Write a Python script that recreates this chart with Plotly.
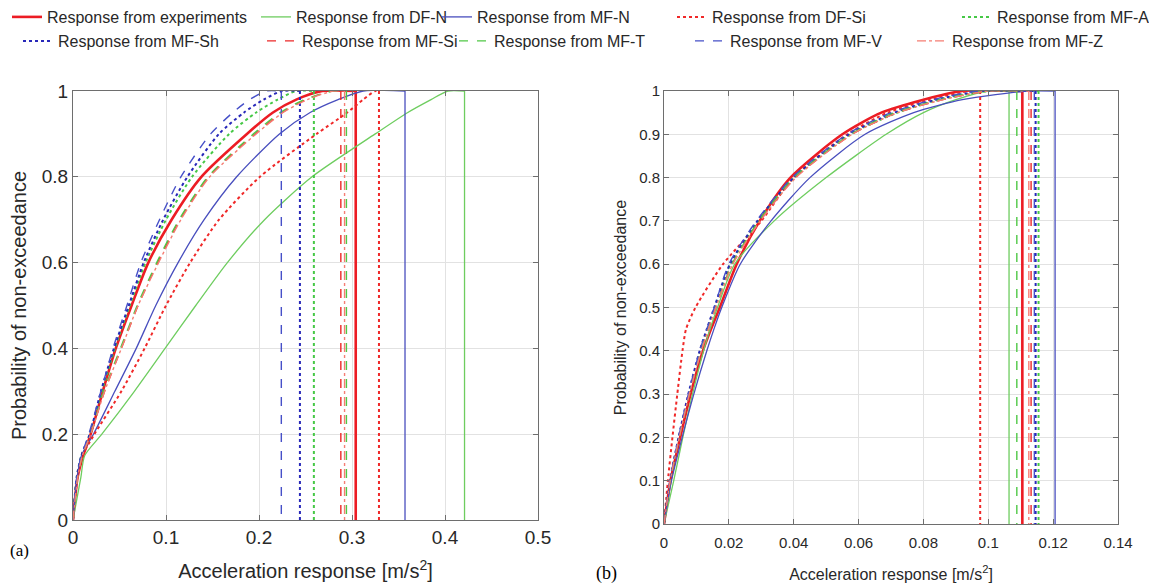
import plotly.graph_objects as go

# page body adds an 8px margin, so the figure is 8px smaller and every position
# below is taken from the reference minus 8px
OFF = 8
W, H = 1157 - OFF, 586 - OFF

# ---- data ----
names = ["Response from experiments", "Response from DF-N", "Response from MF-N",
         "Response from DF-Si", "Response from MF-A", "Response from MF-Sh",
         "Response from MF-Si", "Response from MF-T", "Response from MF-V",
         "Response from MF-Z"]

# probability levels (y) used for panel (a)
prob_a = [0, 0.1, 0.15, 0.2, 0.3, 0.4, 0.5, 0.6, 0.7, 0.8, 0.9, 0.95, 0.98, 1.0]
# acceleration (x) at those levels, panel (a)
exp_a = [0, 0.005, 0.011, 0.019, 0.032, 0.046, 0.063, 0.081, 0.106, 0.138, 0.187, 0.215, 0.240, 0.268]
dfn_a = [0, 0.0085, 0.0125, 0.031, 0.066, 0.099, 0.132, 0.166, 0.206, 0.257, 0.325, 0.360, 0.385, 0.403]
mfn_a = [0, 0.0045, 0.009, 0.022, 0.045, 0.068, 0.089, 0.113, 0.141, 0.176, 0.222, 0.255, 0.285, 0.312]
dfsi_a = [0, 0.005, 0.010, 0.023, 0.052, 0.077, 0.100, 0.126, 0.157, 0.201, 0.262, 0.295, 0.312, 0.325]
mfa_a = [0, 0.004, 0.009, 0.018, 0.031, 0.045, 0.061, 0.078, 0.100, 0.128, 0.168, 0.197, 0.220, 0.240]
mfsh_a = [0, 0.004, 0.009, 0.018, 0.030, 0.044, 0.060, 0.076, 0.097, 0.123, 0.157, 0.184, 0.205, 0.225]
mfsi_a = [0, 0.005, 0.010, 0.019, 0.034, 0.052, 0.070, 0.091, 0.115, 0.146, 0.196, 0.225, 0.250, 0.278]
mft_a = [0, 0.005, 0.010, 0.019, 0.033, 0.051, 0.069, 0.090, 0.114, 0.145, 0.194, 0.223, 0.249, 0.280]
mfv_a = [0, 0.004, 0.009, 0.017, 0.030, 0.043, 0.058, 0.073, 0.093, 0.116, 0.148, 0.172, 0.190, 0.208]
mfz_a = [0, 0.005, 0.010, 0.019, 0.034, 0.052, 0.070, 0.092, 0.116, 0.147, 0.197, 0.226, 0.252, 0.280]
# maximum response (vertical drop line), panel (a)
max_a = [0.304, 0.421, 0.357, 0.329, 0.259, 0.244, 0.288, 0.294, 0.224, 0.292]

# probability levels used for panel (b)
prob_b = [0, 0.1, 0.2, 0.3, 0.4, 0.45, 0.5, 0.6, 0.7, 0.8, 0.9, 0.95, 0.98, 1.0]
exp_b = [0, 0.0020, 0.0050, 0.0082, 0.0120, 0.0145, 0.0172, 0.0224, 0.0295, 0.0390, 0.0550, 0.0670, 0.0800, 0.0920]
dfn_b = [0, 0.0030, 0.0058, 0.0088, 0.0122, 0.0142, 0.0165, 0.0218, 0.0340, 0.0500, 0.0685, 0.0800, 0.0900, 0.1000]
mfn_b = [0, 0.0023, 0.0056, 0.0092, 0.0132, 0.0154, 0.0178, 0.0235, 0.0330, 0.0450, 0.0620, 0.0770, 0.0920, 0.1120]
dfsi_b = [0, 0.0012, 0.0026, 0.0041, 0.0057, 0.0068, 0.0097, 0.0182, 0.0300, 0.0400, 0.0565, 0.0690, 0.0820, 0.0940]
mfa_b = [0, 0.0019, 0.0046, 0.0077, 0.0112, 0.0134, 0.0157, 0.0205, 0.0290, 0.0402, 0.0575, 0.0720, 0.0850, 0.1000]
mfsh_b = [0, 0.0018, 0.0045, 0.0075, 0.0110, 0.0132, 0.0155, 0.0203, 0.0288, 0.0400, 0.0570, 0.0710, 0.0840, 0.0980]
mfsi_b = [0, 0.0019, 0.0047, 0.0078, 0.0115, 0.0137, 0.0160, 0.0210, 0.0295, 0.0405, 0.0580, 0.0720, 0.0860, 0.1000]
mft_b = [0, 0.0019, 0.0047, 0.0078, 0.0114, 0.0136, 0.0160, 0.0210, 0.0292, 0.0400, 0.0575, 0.0710, 0.0850, 0.0980]
mfv_b = [0, 0.0018, 0.0045, 0.0075, 0.0110, 0.0132, 0.0155, 0.0200, 0.0285, 0.0395, 0.0565, 0.0700, 0.0830, 0.0970]
mfz_b = [0, 0.0019, 0.0047, 0.0078, 0.0115, 0.0137, 0.0160, 0.0212, 0.0297, 0.0407, 0.0580, 0.0720, 0.0860, 0.1000]
max_b = [0.1105, 0.1064, 0.1206, 0.0975, 0.1155, 0.1146, 0.1132, 0.1088, 0.1142, 0.1125]

curves_a = [exp_a, dfn_a, mfn_a, dfsi_a, mfa_a, mfsh_a, mfsi_a, mft_a, mfv_a, mfz_a]
curves_b = [exp_b, dfn_b, mfn_b, dfsi_b, mfa_b, mfsh_b, mfsi_b, mft_b, mfv_b, mfz_b]

# ---- styles ----
colors = ["rgb(236,28,36)", "rgb(110,205,95)", "rgb(72,78,190)", "rgb(240,40,40)",
          "rgb(70,200,70)", "rgb(40,40,185)", "rgb(236,40,40)", "rgb(80,200,70)",
          "rgb(70,80,200)", "rgb(245,125,115)"]
dashes = ["solid", "solid", "solid", "dot", "dot", "dot", "dash", "dash", "dash", "dashdot"]
widths = [2.6, 1.3, 1.3, 2.0, 2.0, 2.0, 1.4, 1.4, 1.4, 1.4]

# legend: where each entry's text starts in the reference (px), and row centre
leg_px = [(47, 17), (296, 17), (477, 17), (712, 17), (997, 17),
          (58, 41), (302, 41), (494, 41), (730, 41), (952, 41)]

FONT = "Arial, 'Liberation Sans', sans-serif"
SERIF = "'Liberation Serif', 'Times New Roman', serif"
TXT = "rgb(40,40,40)"


def px_x(p):
    return (p - OFF) / W


def px_y(p):
    return 1 - (p - OFF) / H


fig = go.Figure()
for i in range(len(names)):
    leg = "legend" if i == 0 else "legend%d" % (i + 1)
    line = dict(color=colors[i], dash=dashes[i], width=widths[i])
    for curve, prob, mx, xa, ya, first in [(curves_a[i], prob_a, max_a[i], "x", "y", True),
                                           (curves_b[i], prob_b, max_b[i], "x2", "y2", False)]:
        # smooth CDF part, running flat to the maximum
        fig.add_trace(go.Scatter(x=curve + [mx], y=prob + [prob[-1]], mode="lines",
                                 name=names[i], showlegend=first, legend=leg,
                                 legendgroup=names[i],
                                 line=dict(line, shape="spline", smoothing=0.7),
                                 xaxis=xa, yaxis=ya))
        # drop line at the maximum response
        fig.add_trace(go.Scatter(x=[mx, mx], y=[prob[-1], prob[0]], mode="lines",
                                 name=names[i], showlegend=False, legendgroup=names[i],
                                 line=line, xaxis=xa, yaxis=ya))

axis_common = dict(showgrid=True, gridcolor="rgb(226,226,226)", zeroline=False,
                   showline=True, linecolor="rgb(110,110,110)", linewidth=1, mirror="ticks",
                   ticks="inside", ticklen=5, tickcolor="rgb(110,110,110)",
                   automargin=False)

layout = dict(
    width=W, height=H, paper_bgcolor="white", plot_bgcolor="white",
    margin=dict(l=0, r=0, t=0, b=0, autoexpand=False),
    font=dict(family=FONT, color=TXT),
    xaxis=dict(axis_common, domain=[px_x(73), px_x(538)], range=[0, 0.5], dtick=0.1, anchor="y",
               tickfont=dict(family=FONT, color=TXT, size=19),
               title=dict(text="Acceleration response [m/s<sup>2</sup>]",
                          font=dict(family=FONT, size=20, color=TXT), standoff=17)),
    yaxis=dict(axis_common, domain=[px_y(520), px_y(91)], range=[0, 1], dtick=0.2, anchor="x",
               tickfont=dict(family=FONT, color=TXT, size=19),
               title=dict(text="Probability of non-exceedance",
                          font=dict(family=FONT, size=20, color=TXT), standoff=10)),
    xaxis2=dict(axis_common, domain=[px_x(664), px_x(1118)], range=[0, 0.14], dtick=0.02,
                anchor="y2", ticklabelstandoff=5,
                tickfont=dict(family=FONT, color=TXT, size=15),
                title=dict(text="Acceleration response [m/s<sup>2</sup>]",
                           font=dict(family=FONT, size=16, color=TXT), standoff=18)),
    yaxis2=dict(axis_common, domain=[px_y(524), px_y(91)], range=[0, 1], dtick=0.1, anchor="x2",
                tickfont=dict(family=FONT, color=TXT, size=15),
                title=dict(text="Probability of non-exceedance",
                           font=dict(family=FONT, size=16, color=TXT), standoff=8)),
    annotations=[
        dict(text="(a)", x=0, y=px_y(550), xref="paper", yref="paper",
             xanchor="left", yanchor="middle", showarrow=False,
             font=dict(family=SERIF, size=17, color="black")),
        dict(text="(b)", x=px_x(594), y=px_y(573), xref="paper", yref="paper",
             xanchor="left", yanchor="middle", showarrow=False,
             font=dict(family=SERIF, size=18, color="black")),
    ],
)

for i, (px, py) in enumerate(leg_px):
    key = "legend" if i == 0 else "legend%d" % (i + 1)
    layout[key] = dict(x=px_x(px - 40), y=px_y(py), xanchor="left", yanchor="middle",
                       orientation="h", bgcolor="rgba(0,0,0,0)", borderwidth=0,
                       itemwidth=30, tracegroupgap=0,
                       font=dict(family=FONT, size=16, color=TXT))

fig.update_layout(layout)
fig.write_html("out.html")
